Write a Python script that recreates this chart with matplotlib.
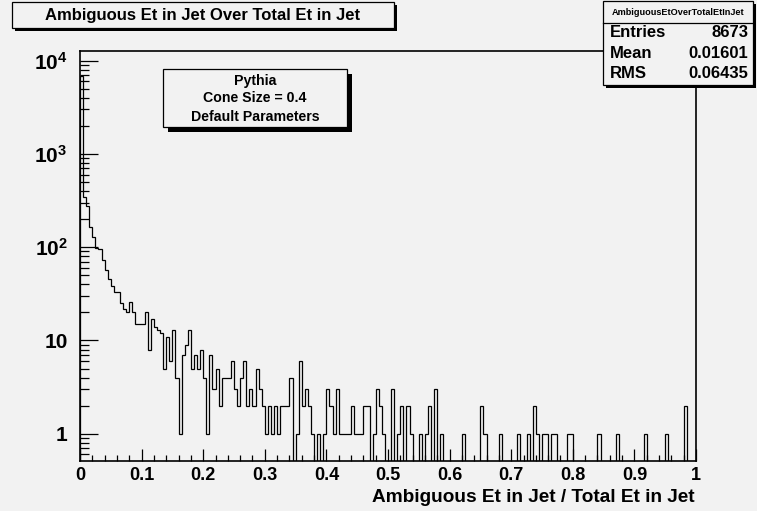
import numpy as np
import matplotlib
matplotlib.use('Agg')
import matplotlib.pyplot as plt
from matplotlib.patches import Rectangle
from matplotlib.ticker import FixedLocator, MultipleLocator, LogLocator, NullFormatter

# bin contents, 200 bins of width 0.005 from 0 to 1
counts = [6800, 345, 280, 165, 129, 99, 95, 73, 57, 46,
          38, 33, 33, 25, 22, 20, 26, 20, 15, 15,
          15, 20, 8, 17, 14, 13, 12, 5, 11, 6,
          13, 4, 1, 7, 9, 13, 5, 7, 5, 8,
          4, 1, 7, 3, 5, 2, 4, 4, 4, 6,
          3, 2, 4, 6, 2, 3, 2, 5, 3, 2,
          1, 2, 1, 2, 1, 2, 2, 2, 4, 0,
          1, 6, 2, 3, 2, 1, 0, 1, 0, 1,
          3, 2, 1, 3, 1, 1, 1, 1, 2, 1,
          1, 1, 2, 2, 0, 1, 3, 2, 1, 0,
          0, 3, 0, 1, 2, 0, 2, 1, 0, 0,
          1, 0, 1, 2, 0, 3, 0, 1, 0, 0,
          0, 0, 0, 0, 1, 0, 0, 0, 0, 0,
          2, 1, 0, 0, 0, 0, 1, 0, 0, 0,
          0, 0, 1, 0, 0, 1, 0, 2, 1, 0,
          1, 1, 0, 1, 1, 0, 0, 0, 1, 1,
          0, 0, 0, 0, 0, 0, 0, 0, 1, 0,
          0, 0, 0, 0, 1, 0, 0, 0, 0, 0,
          0, 0, 0, 1, 0, 0, 0, 0, 0, 0,
          1, 0, 0, 0, 0, 0, 2, 0, 0, 0]
x_min, x_max = 0.0, 1.0

title = 'Ambiguous Et in Jet Over Total Et in Jet'
xlabel = 'Ambiguous Et in Jet / Total Et in Jet'
hist_name = 'AmbiguousEtOverTotalEtInJet'
stat_names = ['Entries', 'Mean', 'RMS']
stat_values = ['8673', '0.01601', '0.06435']
pave_lines = ['Pythia', 'Cone Size = 0.4', 'Default Parameters']

xtick_vals = [0, 0.1, 0.2, 0.3, 0.4, 0.5, 0.6, 0.7, 0.8, 0.9, 1]
xtick_labels = ['0', '0.1', '0.2', '0.3', '0.4', '0.5', '0.6', '0.7', '0.8', '0.9', '1']
ytick_vals = [1, 10, 100, 1000, 10000]
ytick_labels = ['1', '10', '$10^{2}$', '$10^{3}$', '$10^{4}$']

# style
bg = '#f2f2f2'
W, H = 757, 511
plt.rcParams['font.family'] = ['Liberation Sans', 'DejaVu Sans']
plt.rcParams['font.weight'] = 'bold'
plt.rcParams['mathtext.fontset'] = 'custom'
plt.rcParams['mathtext.rm'] = 'Liberation Sans:bold'
plt.rcParams['mathtext.bf'] = 'Liberation Sans:bold'
plt.rcParams['mathtext.it'] = 'Liberation Sans:bold'


def fx(px):
    return px / W


def fy(py):
    # pixel row from top -> figure fraction
    return 1 - py / H


def box(x0, y0, x1, y1, shadow):
    # ROOT style pave: black shadow, grey fill, black border
    fig.add_artist(Rectangle((fx(x0 + shadow), fy(y1 + shadow)), fx(x1 - x0), fy(y0) - fy(y1),
                             transform=fig.transFigure, facecolor='black', edgecolor='none'))
    fig.add_artist(Rectangle((fx(x0), fy(y1)), fx(x1 - x0), fy(y0) - fy(y1),
                             transform=fig.transFigure, facecolor=bg, edgecolor='black', lw=0.9))


fig = plt.figure(figsize=(W / 100, H / 100), dpi=100, facecolor=bg)
ax = fig.add_axes([fx(80), fy(461), fx(616), fy(51) - fy(461)])
ax.set_facecolor(bg)

edges = np.linspace(x_min, x_max, len(counts) + 1)
vals = np.array(counts, dtype=float)
floor = 1e-3
drawn = np.where(vals > 0, vals, floor)  # empty bins drop to the bottom as in ROOT
ax.stairs(drawn, edges, baseline=floor, color='black', lw=0.9)

ax.set_yscale('log')
ax.set_xlim(x_min, x_max)
ax.set_ylim(0.51, 12700)

ax.xaxis.set_major_locator(FixedLocator(xtick_vals))
ax.set_xticklabels(xtick_labels, fontsize=13, fontweight='bold')
ax.xaxis.set_minor_locator(MultipleLocator(0.02))
ax.yaxis.set_major_locator(FixedLocator(ytick_vals))
ax.set_yticklabels(ytick_labels, fontsize=15, fontweight='bold')
ax.yaxis.set_minor_locator(LogLocator(base=10, subs=np.arange(2, 10)))
ax.yaxis.set_minor_formatter(NullFormatter())

ax.tick_params(axis='x', which='major', direction='in', length=9, width=0.9, pad=4)
ax.tick_params(axis='x', which='minor', direction='in', length=4.5, width=0.9)
ax.tick_params(axis='y', which='major', direction='in', length=13, width=0.9, pad=9)
ax.tick_params(axis='y', which='minor', direction='in', length=6.5, width=0.9)
for s in ax.spines.values():
    s.set_linewidth(1.2)

fig.text(fx(695), fy(502), xlabel, ha='right', va='baseline', fontsize=13.7, fontweight='bold')

# title box
box(12, 2, 394, 28, 3)
fig.text(fx(203), fy(15.5), title, ha='center', va='center', fontsize=12, fontweight='bold')

# text pave
box(163, 69, 347, 127, 5)
for txt, yy in zip(pave_lines, [80.7, 97.7, 117.3]):
    fig.text(fx(255), fy(yy), txt, ha='center', va='center', fontsize=10.2, fontweight='bold')

# stats box
box(603, 1, 753, 85, 3)
fig.add_artist(plt.Line2D([fx(603), fx(753)], [fy(22.7), fy(22.7)], transform=fig.transFigure,
                          color='black', lw=0.9))
fig.text(fx(678), fy(12.7), hist_name, ha='center', va='center', fontsize=6.6, fontweight='bold')
for name, val, yy in zip(stat_names, stat_values, [32.3, 53.3, 74]):
    fig.text(fx(610), fy(yy), name, ha='left', va='center', fontsize=12, fontweight='bold')
    fig.text(fx(748), fy(yy), val, ha='right', va='center', fontsize=12, fontweight='bold')

fig.savefig('out.png', dpi=100, facecolor=bg)
